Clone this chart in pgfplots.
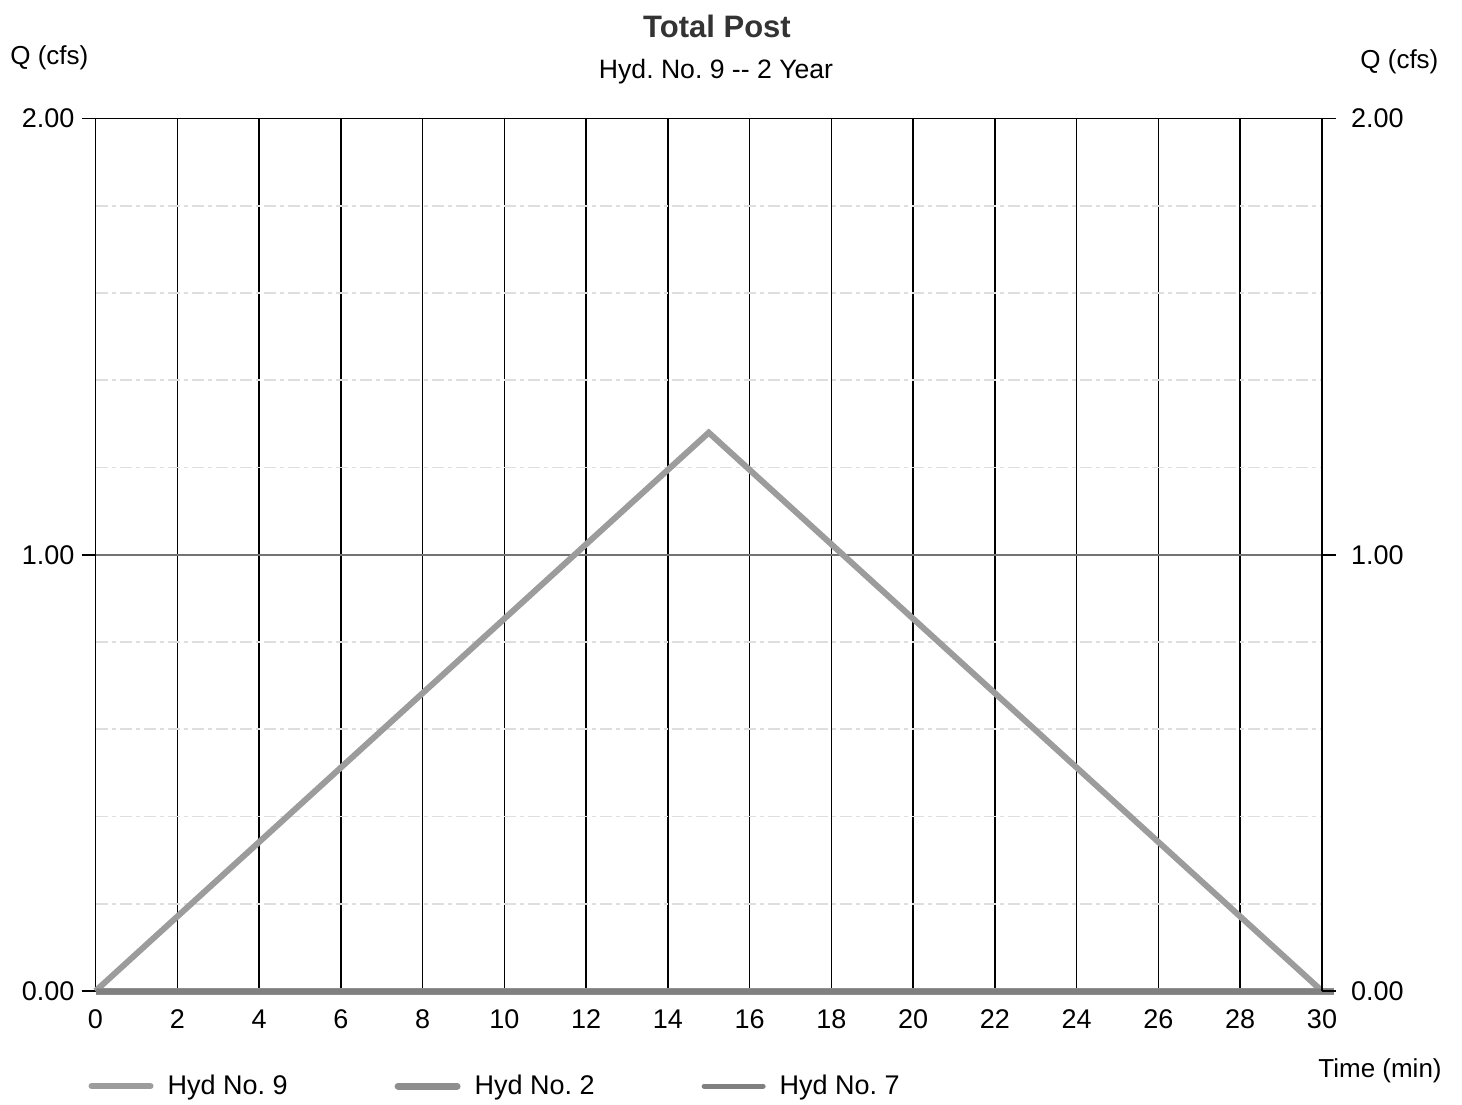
\documentclass[border=0pt]{standalone}
\usepackage{fontspec}
\setmainfont{Liberation Sans}
\usepackage{pgfplots}
\pgfplotsset{compat=1.18}

\definecolor{hydnine}{HTML}{9C9C9C}
\definecolor{hydtwo}{HTML}{8E8E8E}
\definecolor{hydseven}{HTML}{808080}

\newcommand{\lblfont}{\fontsize{13}{15}\selectfont}
\newcommand{\legfont}{\fontsize{13.5}{15}\selectfont}
\newcommand{\tickfont}{\fontsize{13.5}{15}\selectfont}

\begin{document}
\frenchspacing
\begin{tikzpicture}
\useasboundingbox (0pt,0pt) rectangle (731pt,-552pt);

\begin{axis}[
  at={(47.75pt,-495.5pt)}, anchor=south west,
  scale only axis, width=613.25pt, height=436.25pt,
  xmin=0, xmax=30, ymin=0, ymax=2,
  clip=false,
  axis line style={black, line width=0.75pt},
  xtick={0,2,...,30},
  xtick style={draw=none},
  xmajorgrids, major x grid style={black, line width=0.75pt},
  ytick={0,1,2},
  minor ytick={0.2,0.4,0.6,0.8,1.2,1.4,1.6,1.8},
  ymajorgrids, major y grid style={black!55, line width=0.75pt},
  yminorgrids, minor y grid style={black!13, line width=0.8pt, dash pattern=on 6pt off 2pt on 2pt off 2pt},
  ytick pos=left, tick align=outside,
  major tick length=7pt, minor tick length=0pt,
  ytick style={black, line width=0.75pt},
  tick label style={font=\tickfont},
  /pgf/number format/assume math mode=true,
  yticklabel style={/pgf/number format/.cd, fixed, fixed zerofill, precision=2},
  xticklabel style={anchor=base, inner sep=0pt, yshift=-11.5pt},
  legend columns=3,
  legend style={at={(-0.006,-0.109)}, anchor=west, draw=none, fill=none,
    inner sep=0pt, font=\legfont,
    nodes={inner sep=0pt, anchor=west},
    /tikz/every odd column/.append style={column sep=7pt},
    /tikz/every even column/.append style={column sep=53.5pt}},
  legend image code/.code={\draw[#1, line cap=round] (0pt,0pt) -- (29.5pt,0pt);},
]
  % inflow hydrograph
  \addplot[hydnine, line width=3pt, line join=miter] coordinates {
    (0,0) (15,1.28) (30,0)
  };
  \addlegendentry{Hyd No. 9}
  % contributing hydrographs
  \addplot[hydtwo, line width=3.5pt] coordinates {
    (0,0) (5,0) (10,0) (15,0) (20,0) (25,0) (30.3,0)
  };
  \addlegendentry{Hyd No. 2}
  \addplot[hydseven, line width=2.5pt] coordinates {
    (0,0) (5,0) (10,0) (15,0) (20,0) (25,0) (30.3,0)
  };
  \addlegendentry{Hyd No. 7}
\end{axis}

% right-hand discharge scale
\begin{axis}[
  at={(47.75pt,-495.5pt)}, anchor=south west,
  scale only axis, width=613.25pt, height=436.25pt,
  xmin=0, xmax=30, ymin=0, ymax=2,
  axis y line*=right, axis x line=none,
  axis line style={black, line width=0.75pt},
  ytick={0,1,2}, tick align=outside, major tick length=7pt,
  ytick style={black, line width=0.75pt},
  tick label style={font=\tickfont},
  /pgf/number format/assume math mode=true,
  yticklabel style={xshift=4pt, /pgf/number format/.cd, fixed, fixed zerofill, precision=2},
]
\end{axis}

\node[font=\fontsize{15.5}{18}\selectfont\bfseries, text=black!80] at (358.5pt,-13pt) {Total Post};
\node[font=\fontsize{13.3}{15}\selectfont] at (358pt,-36pt) {Hyd. No. 9 -{}- 2 Year};
\node[font=\lblfont, anchor=west, inner sep=0pt] at (5pt,-29pt) {Q (cfs)};
\node[font=\lblfont, anchor=west, inner sep=0pt] at (680pt,-31pt) {Q (cfs)};
\node[font=\lblfont, anchor=west, inner sep=0pt] at (659pt,-535.5pt) {Time (min)};
\end{tikzpicture}
\end{document}
